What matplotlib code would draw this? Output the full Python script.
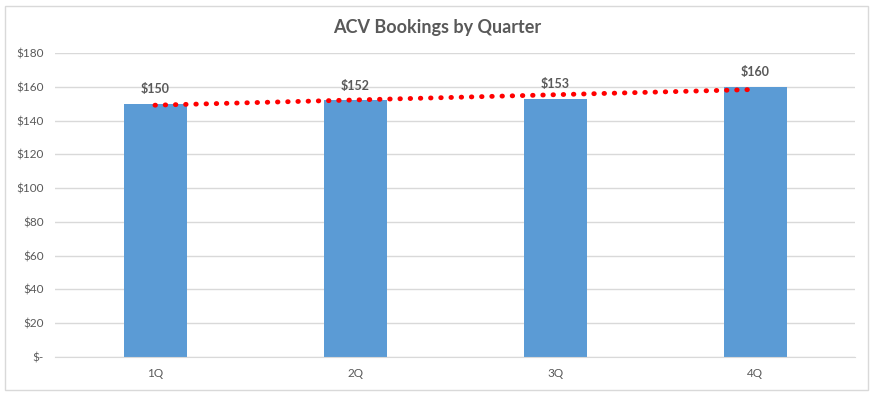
import matplotlib.pyplot as plt
import numpy as np
from matplotlib.patches import Rectangle

quarters = ['1Q', '2Q', '3Q', '4Q']
bookings = [150, 152, 153, 160]
y_ticks = [0, 20, 40, 60, 80, 100, 120, 140, 160, 180]
y_tick_labels = ['$-', '$20', '$40', '$60', '$80', '$100', '$120', '$140', '$160', '$180']

plt.rcParams['font.family'] = ['Lato', 'DejaVu Sans']
text_color = '#595959'

fig = plt.figure(figsize=(8.75, 3.96), dpi=100)
ax = fig.add_axes([55 / 875, 39 / 396, 800 / 875, 304 / 396])

# outer chart border
fig.patches.append(Rectangle((5 / 875, 6 / 396), 863 / 875, 384 / 396,
                             transform=fig.transFigure, fill=False,
                             edgecolor='#d9d9d9', linewidth=1))

x = np.arange(len(quarters))
ax.bar(x, bookings, width=0.315, color='#5b9bd5', zorder=2)

# value labels
for xi, v in zip(x, bookings):
    ax.text(xi, v + 5, f'${v}', ha='center', va='bottom', fontsize=9,
            fontweight='bold', color=text_color)

# linear trendline
coef = np.polyfit(x, bookings, 1)
ax.plot(x, np.polyval(coef, x), color='#ff0000', linestyle=(0, (0.1, 2.0)),
        linewidth=3.5, dash_capstyle='round', zorder=3)

ax.set_xlim(-0.5, len(quarters) - 0.5)
ax.set_ylim(0, 180)
ax.set_xticks(x)
ax.set_xticklabels(quarters)
ax.set_yticks(y_ticks)
ax.set_yticklabels(y_tick_labels)
ax.tick_params(length=0, labelsize=8.5, labelcolor=text_color, pad=8)
ax.grid(axis='y', color='#d9d9d9', linewidth=1, zorder=0)
ax.set_axisbelow(True)
for s in ax.spines.values():
    s.set_visible(False)
ax.spines['bottom'].set_visible(True)
ax.spines['bottom'].set_color('#d9d9d9')

fig.text(0.5, 1 - 27 / 396, 'ACV Bookings by Quarter', ha='center', va='center',
         fontsize=13, fontweight='bold', color=text_color)

fig.savefig('out.png', dpi=100)
